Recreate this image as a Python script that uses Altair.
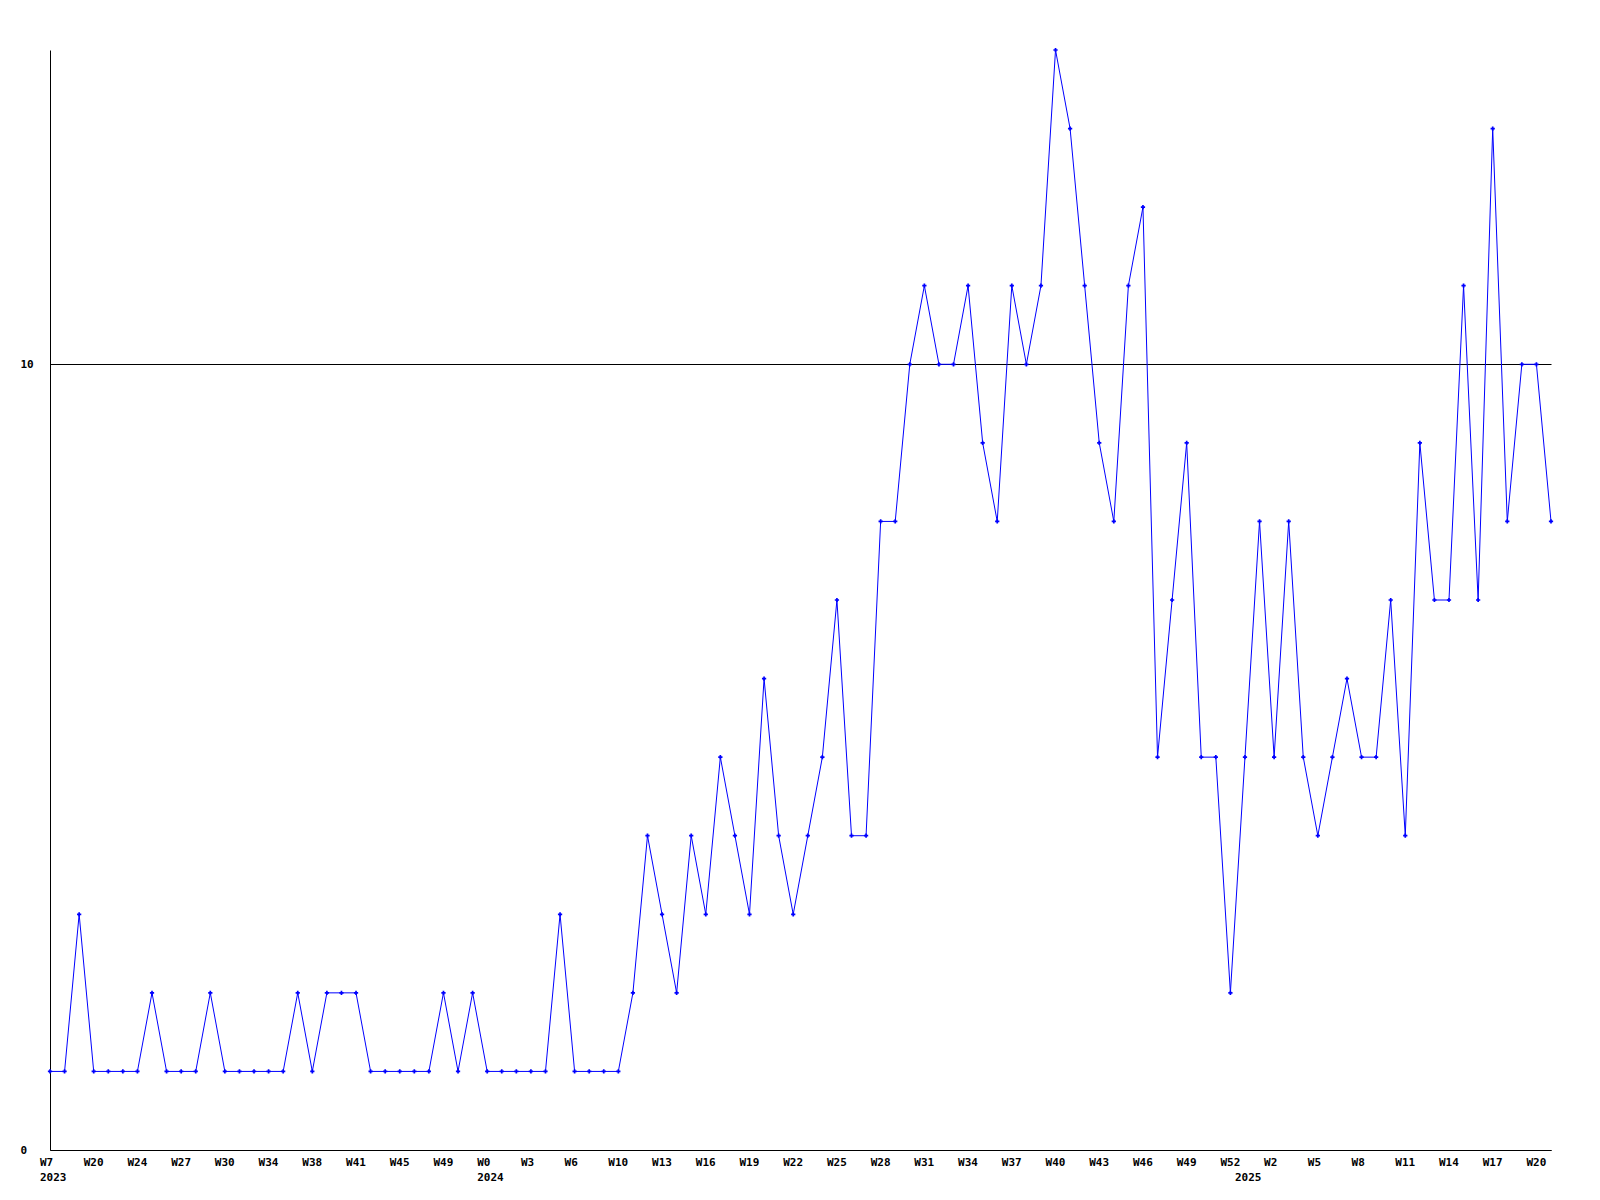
import json
import altair as alt
import pandas as pd

# weekly values (one per point, left to right)
values = [1, 1, 3, 1, 1, 1, 1, 2, 1, 1, 1, 2, 1, 1, 1, 1, 1, 2, 1, 2,
          2, 2, 1, 1, 1, 1, 1, 2, 1, 2, 1, 1, 1, 1, 1, 3, 1, 1, 1, 1,
          2, 4, 3, 2, 4, 3, 5, 4, 3, 6, 4, 3, 4, 5, 7, 4, 4, 8, 8, 10,
          11, 10, 10, 11, 9, 8, 11, 10, 11, 14, 13, 11, 9, 8, 11, 12, 5, 7, 9, 5,
          5, 2, 5, 8, 5, 8, 5, 4, 5, 6, 5, 5, 7, 4, 9, 7, 7, 11, 7, 13,
          8, 10, 10, 8]

# x tick labels (every third point) and year labels
week_labels = ["W7", "W20", "W24", "W27", "W30", "W34", "W38", "W41", "W45", "W49",
               "W0", "W3", "W6", "W10", "W13", "W16", "W19", "W22", "W25", "W28",
               "W31", "W34", "W37", "W40", "W43", "W46", "W49", "W52", "W2", "W5",
               "W8", "W11", "W14", "W17", "W20"]
year_labels = {0: "2023", 30: "2024", 82: "2025"}
y_ticks = [0, 10]

n = len(values)
df = pd.DataFrame({"i": list(range(n)), "v": values})

label_lines = [""] * n
tick_vals = []
for k, w in enumerate(week_labels):
    idx = 3 * k
    label_lines[idx] = w
    tick_vals.append(idx)
for idx, yr in year_labels.items():
    label_lines[idx] = label_lines[idx] + "|" + yr
    if idx not in tick_vals:
        tick_vals.append(idx)
tick_vals.sort()

label_expr = "split(" + json.dumps(label_lines) + "[datum.value], '|')"

FONT = "DejaVu Sans Mono"
BLUE = "#0000FF"

x_enc = alt.X(
    "i:Q",
    scale=alt.Scale(domain=[0, n - 1], nice=False, zero=False),
    axis=alt.Axis(
        values=tick_vals,
        labelExpr=label_expr,
        title=None,
        ticks=False,
        tickSize=0,
        grid=False,
        labelAlign="left",
        labelBaseline="top",
        labelOffset=-10.5,
        labelPadding=6,
        labelLineHeight=15.5,
        labelOverlap=False,
        labelFlush=False,
        labelFont=FONT,
        labelFontSize=11,
        labelFontWeight="bold",
        labelColor="black",
        domainColor="black",
        domainWidth=1,
    ),
)
y_enc = alt.Y(
    "v:Q",
    scale=alt.Scale(domain=[0, 14], nice=False),
    axis=alt.Axis(
        values=y_ticks,
        title=None,
        ticks=False,
        tickSize=0,
        grid=True,
        gridColor="black",
        gridWidth=1,
        gridOpacity=1,
        labelAlign="left",
        labelBaseline="middle",
        labelPadding=30,
        labelFont=FONT,
        labelFontSize=11,
        labelFontWeight="bold",
        labelColor="black",
        labelFlush=False,
        domainColor="black",
        domainWidth=1,
    ),
)

base = alt.Chart(df).encode(x=x_enc, y=y_enc)
line = base.mark_line(color=BLUE, strokeWidth=1)
pts = base.mark_point(shape="cross", filled=True, size=18, color=BLUE, opacity=1)

chart = (
    alt.layer(line, pts)
    .properties(
        width=1501,
        height=1100,
        autosize=alt.AutoSizeParams(type="none"),
        padding={"left": 42, "top": 42, "right": 30, "bottom": 60},
        background="white",
    )
    .configure_view(stroke=None)
)

chart.save("out.html", embed_options={"renderer": "svg", "actions": False})
